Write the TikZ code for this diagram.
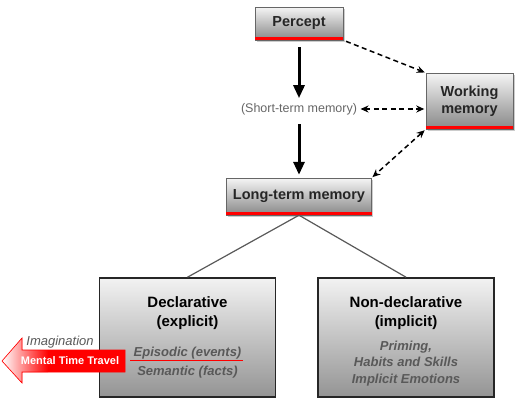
\documentclass[tikz,border=0pt]{standalone}
\usepackage{fontspec}
\setmainfont{Liberation Sans}
\usetikzlibrary{positioning,shadows,arrows.meta}
\begin{document}
\begin{tikzpicture}[x=1pt,y=-1pt]
		\useasboundingbox (0,0) rectangle (528,400);
		% formatos
		\tikzstyle{caja} = [draw=black!60, thin, top color=black!4, bottom color=black!47, drop shadow={shadow xshift=1.5pt,shadow yshift=-2pt,opacity=0.4}, font=\fontsize{14.5}{17}\selectfont\bfseries, text=black!85, align=center]
		\tikzstyle{bloque} = [draw=black!85, line width=1.6pt, top color=black!5, bottom color=black!42, minimum width=176pt, minimum height=119pt]
		\tikzstyle{titulo} = [font=\fontsize{15}{19.5}\selectfont\bfseries, align=center]
		\tikzstyle{item} = [font=\fontsize{13}{16.3}\selectfont\bfseries\itshape, text=black!65, align=center, inner sep=1pt]
		\tikzstyle{flecha} = [-{Triangle[length=13pt,width=11pt]}, line width=3pt]
		\tikzstyle{enlace} = [>={Stealth[length=8pt,width=7pt]}, dash pattern=on 5pt off 3.5pt, line width=1.5pt]
		\tikzstyle{rama} = [draw=black!65, line width=1.2pt]
		\tikzstyle{barra} = [red, line width=3.5pt]
		% nodos
		\node [caja, minimum width=88pt, minimum height=33pt] (percept) at (299,23.5)	{Percept};
		\node [text=black!60, font=\fontsize{12.5}{14}\selectfont] (stm)	[below of =percept, node distance=85.5pt]	{(Short-term memory)};
		\node [caja, minimum width=145pt, minimum height=37pt] (ltm)	[below of =stm, node distance=87.5pt]	{Long-term memory};
		\node [caja, minimum width=87pt, minimum height=56pt] (wm) at (469.5,101)	{Working\\memory};
		\node [bloque] (decl) at (187.5,337.5)	{};
		\node [bloque] (nodecl) at (406,337.5)	{};
		\node [titulo] (decltit) at (187.5,313)	{Declarative\\(explicit)};
		\node [titulo] (nodecltit) at (406,313)	{Non-declarative\\(implicit)};
		\node [item] (episodic) at (187.5,353)	{Episodic (events)};
		\node [item] (semantic) at (187.5,372.5)	{Semantic (facts)};
		\node [item] (priming) at (406,363.5)	{Priming,\\Habits and Skills\\Implicit Emotions};
		% barras rojas
		\foreach \n in {percept,ltm,wm}
			\draw [barra] ([yshift=1.75pt]\n.south west) -- ([yshift=1.75pt]\n.south east);
		\draw [red, line width=1.5pt] ([xshift=-2pt]episodic.south west) -- (episodic.south east);
		% relaciones
		\draw [flecha, shorten <=7pt, shorten >=1.5pt] (percept) -- (stm);
		\draw [flecha, shorten <=6pt, shorten >=3pt] (stm) -- (ltm);
		\draw [enlace, ->, shorten <=3pt, shorten >=1pt] (percept.south east) -- (wm.north west);
		\draw [enlace, <->, shorten >=1.5pt] (stm) -- (stm -| wm.west);
		\draw [enlace, <->, shorten <=1.5pt, shorten >=1pt] (wm.south west) -- (ltm.north east);
		\draw [rama] (ltm.south) -- (decl.north);
		\draw [rama] (ltm.south) -- (nodecl.north);
		% flecha roja
		\fill [red] (2,361) -- (22,338) -- (22,350) -- (125,350) -- (125,372) -- (22,372) -- (22,383) -- cycle;
		\begin{scope}
			\clip (2,361) -- (22,338) -- (22,350) -- (125,350) -- (125,372) -- (22,372) -- (22,383) -- cycle;
			\shade [left color=white, right color=red] (2,330) rectangle (48,390);
		\end{scope}
		\draw [red, line width=0.6pt] (2,361) -- (22,338) -- (22,350) -- (125,350) -- (125,372) -- (22,372) -- (22,383) -- cycle;
		\node [font=\fontsize{11}{13}\selectfont\bfseries, text=white] (mtt) at (70,361)	{Mental Time Travel};
		\node [font=\fontsize{13}{15}\selectfont\itshape, text=black!65] (imag) at (60,342)	{Imagination};
	\end{tikzpicture}
\end{document}
